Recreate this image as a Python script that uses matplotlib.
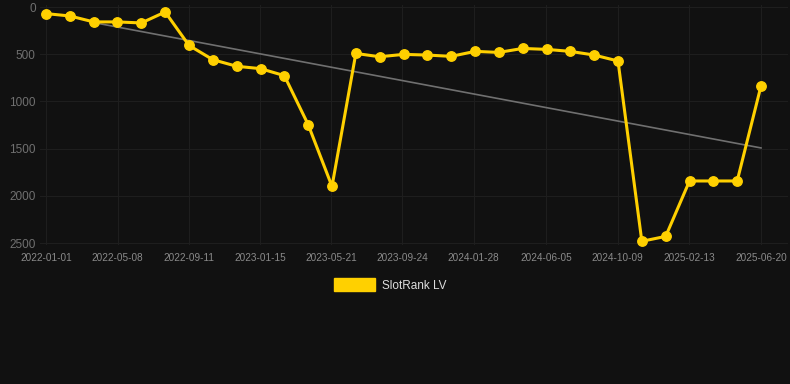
import pandas as pd
import matplotlib
matplotlib.use('Agg')
import matplotlib.pyplot as plt
import matplotlib.patches as mpatches

# rank of the slot over time (lower is better, axis is inverted)
dates = pd.date_range('2022-01-01', '2025-06-20', periods=31)
ranks = [70, 95, 158, 158, 169, 53, 407, 558, 628, 653, 727, 1246, 1900,
         492, 527, 502, 509, 523, 470, 481, 439, 449, 470, 509, 572,
         2482, 2430, 1843, 1843, 1843, 836]
# trend line end points
trend_dates = [dates[2], dates[-1]]
trend_ranks = [165, 1493]

tick_labels = ['2022-01-01', '2022-05-08', '2022-09-11', '2023-01-15',
               '2023-05-21', '2023-09-24', '2024-01-28', '2024-06-05',
               '2024-10-09', '2025-02-13', '2025-06-20']
y_ticks = [0, 500, 1000, 1500, 2000, 2500]

bg = '#111111'
yellow = '#FFD000'

plt.rcParams['font.family'] = ['Liberation Sans', 'DejaVu Sans']

fig = plt.figure(figsize=(7.9, 3.84), dpi=100, facecolor=bg)
W, H = 790, 384
ax = fig.add_axes([40 / W, 1 - 245 / H, 748 / W, 240 / H])
ax.set_facecolor(bg)

ax.plot(trend_dates, trend_ranks, color='#707070', lw=1.2, zorder=2)
ax.plot(dates, ranks, color=yellow, lw=2.2, marker='o', markersize=6.8,
        zorder=3, clip_on=False)

days_per_px = 1266 / 715
ax.set_xlim(dates[0] - pd.Timedelta(days=6 * days_per_px),
            dates[-1] + pd.Timedelta(days=27 * days_per_px))
u = 2500 / 236
ax.set_ylim(2500 + 2 * u, -2 * u)

ticks = pd.to_datetime(tick_labels)
ax.set_xticks(ticks)
ax.set_xticklabels(tick_labels)
ax.set_yticks(y_ticks)
ax.tick_params(axis='x', colors='#8a8a8a', labelsize=7.2, length=0, pad=6)
ax.tick_params(axis='y', colors='#707070', labelsize=8.5, length=0, pad=3)
ax.grid(True, color='#1e1e1e', lw=0.8)
for s in ax.spines.values():
    s.set_visible(False)

handle = mpatches.Patch(color=yellow, label='SlotRank LV')
leg = fig.legend(handles=[handle], loc='center', bbox_to_anchor=(390 / W, 1 - 285 / H),
                 frameon=False, fontsize=8.5, handlelength=3.5, handleheight=1.3,
                 handletextpad=0.6)
for t in leg.get_texts():
    t.set_color('#dddddd')

fig.savefig('out.png', dpi=100, facecolor=bg)
